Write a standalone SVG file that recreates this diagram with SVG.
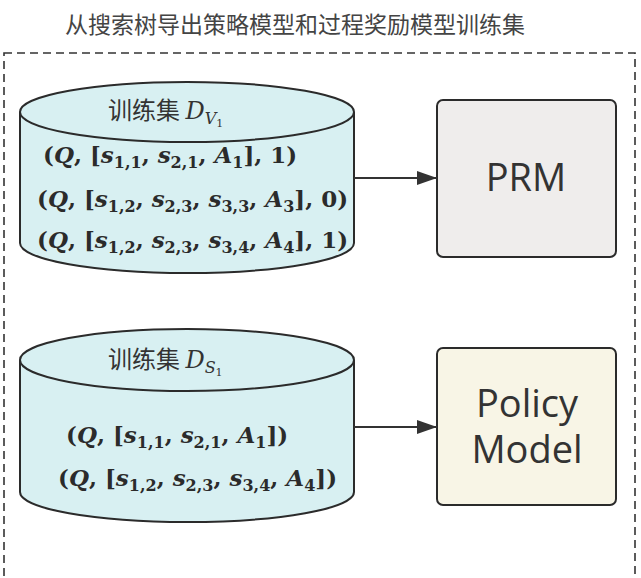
<svg xmlns="http://www.w3.org/2000/svg" width="641" height="578" viewBox="0 0 641 578">
<style>
.title{font-family:"Noto Sans CJK SC","Noto Sans",sans-serif;font-size:23px;fill:#444}
.frame{fill:none;stroke:#333;stroke-width:1.6;stroke-dasharray:8 5}
.cyl{fill:#d8f0f2;stroke:#2b2b2b;stroke-width:2}
.lab{font-family:"Noto Sans CJK SC","Noto Sans",sans-serif;font-size:24px;fill:#333}
.d{font-family:"DejaVu Serif",serif;font-style:italic;font-size:24px}
.ds{font-family:"DejaVu Serif",serif;font-style:italic;font-size:16px}
.dss{font-family:"DejaVu Serif",serif;font-size:11px}
.m{font-family:"DejaVu Serif",serif;font-weight:bold;font-size:23px;fill:#2b2b2b}
.v{font-style:italic}
.sb{font-size:16px}
.box{stroke:#2b2b2b;stroke-width:2}
.bt{font-family:"Open Sans","Noto Sans",sans-serif;font-size:38px;fill:#333;text-anchor:middle}
.conn{stroke:#333;stroke-width:2;fill:none}
</style>
<defs>
<marker id="ah" viewBox="0 0 20 14" refX="20" refY="7" markerWidth="20" markerHeight="14" markerUnits="userSpaceOnUse" orient="auto">
<path d="M0,0 L20,7 L0,14 Z" fill="#333"/>
</marker>
</defs>
<rect width="641" height="578" fill="#ffffff"/>
<text class="title" x="295" y="33" text-anchor="middle">从搜索树导出策略模型和过程奖励模型训练集</text>
<rect class="frame" x="4" y="53" width="631" height="560"/>

<g id="dv1">
<path class="cyl" d="M20,112 L20,243 A167,30 0 0 0 354,243 L354,112"/>
<ellipse class="cyl" cx="187" cy="112" rx="167" ry="30"/>
<text class="lab" x="108" y="119">训练集 <tspan class="d">D</tspan><tspan class="ds" dy="5">V</tspan><tspan class="dss" dy="3">1</tspan></text>
<text class="m" x="43" y="163">(<tspan class="v">Q</tspan>, [<tspan class="v">s</tspan><tspan class="sb" dy="5">1,1</tspan><tspan dy="-5">, </tspan><tspan class="v">s</tspan><tspan class="sb" dy="5">2,1</tspan><tspan dy="-5">, </tspan><tspan class="v">A</tspan><tspan class="sb" dy="5">1</tspan><tspan dy="-5">], 1)</tspan></text>
<text class="m" x="37" y="207">(<tspan class="v">Q</tspan>, [<tspan class="v">s</tspan><tspan class="sb" dy="5">1,2</tspan><tspan dy="-5">, </tspan><tspan class="v">s</tspan><tspan class="sb" dy="5">2,3</tspan><tspan dy="-5">, </tspan><tspan class="v">s</tspan><tspan class="sb" dy="5">3,3</tspan><tspan dy="-5">, </tspan><tspan class="v">A</tspan><tspan class="sb" dy="5">3</tspan><tspan dy="-5">], 0)</tspan></text>
<text class="m" x="37" y="248">(<tspan class="v">Q</tspan>, [<tspan class="v">s</tspan><tspan class="sb" dy="5">1,2</tspan><tspan dy="-5">, </tspan><tspan class="v">s</tspan><tspan class="sb" dy="5">2,3</tspan><tspan dy="-5">, </tspan><tspan class="v">s</tspan><tspan class="sb" dy="5">3,4</tspan><tspan dy="-5">, </tspan><tspan class="v">A</tspan><tspan class="sb" dy="5">4</tspan><tspan dy="-5">], 1)</tspan></text>
</g>

<g id="ds1">
<path class="cyl" d="M20,360 L20,492 A167,30 0 0 0 354,492 L354,360"/>
<ellipse class="cyl" cx="187" cy="360" rx="167" ry="31"/>
<text class="lab" x="108" y="368">训练集 <tspan class="d">D</tspan><tspan class="ds" dy="5">S</tspan><tspan class="dss" dy="3">1</tspan></text>
<text class="m" x="66" y="443">(<tspan class="v">Q</tspan>, [<tspan class="v">s</tspan><tspan class="sb" dy="5">1,1</tspan><tspan dy="-5">, </tspan><tspan class="v">s</tspan><tspan class="sb" dy="5">2,1</tspan><tspan dy="-5">, </tspan><tspan class="v">A</tspan><tspan class="sb" dy="5">1</tspan><tspan dy="-5">])</tspan></text>
<text class="m" x="58" y="486">(<tspan class="v">Q</tspan>, [<tspan class="v">s</tspan><tspan class="sb" dy="5">1,2</tspan><tspan dy="-5">, </tspan><tspan class="v">s</tspan><tspan class="sb" dy="5">2,3</tspan><tspan dy="-5">, </tspan><tspan class="v">s</tspan><tspan class="sb" dy="5">3,4</tspan><tspan dy="-5">, </tspan><tspan class="v">A</tspan><tspan class="sb" dy="5">4</tspan><tspan dy="-5">])</tspan></text>
</g>

<g id="prm">
<rect class="box" x="437" y="100" width="179" height="157" rx="6" fill="#efedec"/>
<text class="bt" x="526" y="191">PRM</text>
</g>

<g id="policy">
<rect class="box" x="437" y="348" width="179" height="157" rx="6" fill="#f8f5e6"/>
<text class="bt"><tspan x="527" y="417">Policy</tspan><tspan x="527" y="463">Model</tspan></text>
</g>

<g id="connectors">
<line class="conn" x1="354" y1="178" x2="437" y2="178" marker-end="url(#ah)"/>
<line class="conn" x1="354" y1="427" x2="437" y2="427" marker-end="url(#ah)"/>
</g>
</svg>
